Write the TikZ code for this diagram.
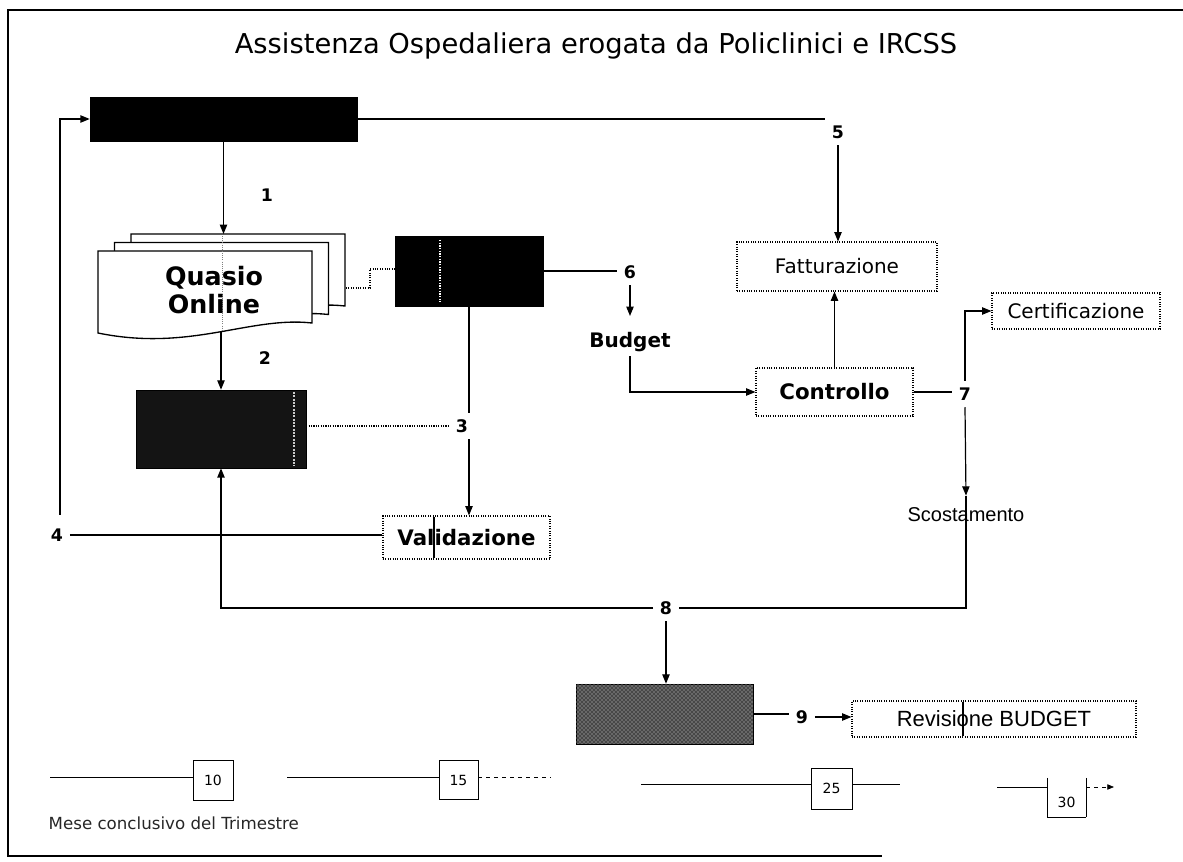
\documentclass[tikz,border=0pt]{standalone}
\usepackage{fontspec}
\setmainfont{DejaVu Sans}
\newfontfamily\arialf{Liberation Sans}
\usetikzlibrary{arrows.meta,patterns}
\begin{document}
\begin{tikzpicture}[x=0.75pt,y=-0.75pt,
  ln/.style={line width=0.9pt},
  arr/.style={ln,-{Triangle[length=7pt,width=5.5pt]}},
  blk/.style={fill=black,draw=black,inner sep=0pt},
  dbox/.style={draw,densely dotted,line width=0.8pt,inner sep=0pt},
  num/.style={font=\bfseries\fontsize{13}{13}\selectfont,inner sep=5pt},
  dline/.style={densely dotted,line width=0.8pt},
  tl/.style={line width=0.6pt},
  tbox/.style={draw,line width=0.6pt,inner sep=0pt,font=\fontsize{10.5}{10.5}\selectfont}
]
\useasboundingbox (0,0) rectangle (1183,862);
% frame
\draw[line width=1pt] (1183,10) -- (8,10) -- (8,856) -- (882,856);
% title
\node[font=\fontsize{20.5}{20.5}\selectfont] (title) at (596,46) {Assistenza Ospedaliera erogata da Policlinici e IRCSS};
% black boxes
\node[blk,minimum width=200.25pt,minimum height=33pt] (top) at (223.5,119) {};
\node[blk,minimum width=111pt,minimum height=52.5pt] (mid) at (469,271) {};
\node[blk,fill=black!92,minimum width=127.5pt,minimum height=58.5pt] (gray) at (221,429) {};
\node[blk,fill=black!72,minimum width=132.75pt,minimum height=45pt,postaction={pattern=crosshatch dots,pattern color=white!85!black}] (bot) at (664.5,714) {};
\draw[white,densely dotted,line width=1pt] (440,240) -- (440,302);
\draw[white!80!black,densely dotted,line width=1.5pt] (294,392) -- (294,466);
% Quasio Online document stack
\foreach \dx/\dy in {33/-17,16.5/-8.5,0/0}{
  \begin{scope}[shift={(\dx,\dy)}]
    \draw[fill=white,line width=1pt] (98,251) -- (312,251) -- (312,323) .. controls (250,316) and (190,352) .. (98,333) -- cycle;
  \end{scope}
}
\draw[gray,densely dotted,line width=0.6pt] (222,236) -- (222,330);
\node[font=\bfseries\fontsize{19}{21}\selectfont,align=center,inner sep=0pt] (q) at (214,290) {Quasio\\Online};
\coordinate (qtop) at (223.5,234);
\coordinate (qbot) at (221,331);
\coordinate (qr) at (346,288);
\coordinate (qk1) at (370,288);
\coordinate (qk2) at (370,269);
% dotted boxes
\node[dbox,minimum width=150pt,minimum height=36.75pt,font=\fontsize{15}{15}\selectfont] (fatt) at (837,266.5) {Fatturazione};
\node[dbox,minimum width=126pt,minimum height=27pt,font=\fontsize{15}{15}\selectfont] (cert) at (1076,311) {Certificazione};
\node[dbox,minimum width=117.75pt,minimum height=36pt,font=\bfseries\fontsize{16}{16}\selectfont] (contr) at (834.5,392) {Controllo};
\node[dbox,minimum width=125.25pt,minimum height=32.25pt,font=\bfseries\fontsize{16}{16}\selectfont] (valid) at (466.5,537.5) {Validazione};
\node[dbox,minimum width=213pt,minimum height=27pt,font=\arialf\fontsize{16.5}{16.5}\selectfont] (rev) at (994,719) {Revisione BUDGET};
\draw[ln] (434,517) -- (434,558);
\draw[ln] (963,702) -- (963,736);
% plain text nodes
\node[font=\bfseries\fontsize{15}{15}\selectfont,inner sep=3pt] (budget) at (630,342) {Budget};
\node[font=\arialf\fontsize{15}{15}\selectfont,inner sep=3pt] (scost) at (966,515) {Scostamento};
% numbers
\node[num] (n1) at (267,195) {1};
\node[num] (n2) at (265,358) {2};
\node[num] (n3) at (462,426) {3};
\node[num] (n4) at (57,535) {4};
\node[num] (n5) at (838,132) {5};
\node[num] (n6) at (630,272) {6};
\node[num] (n7) at (965,394) {7};
\node[num] (n8) at (666,608) {8};
\node[num] (n9) at (802,717) {9};
% connectors
\coordinate (l4) at (60,515);
\draw[arr] (l4) |- (top.west);
\draw[ln] (n4.east) -- (n4.east -| valid.west);
\draw[arr] (top.south) -- (qtop);
\draw[arr] (qbot) -- (gray.north);
\draw[ln] (top.east) -- (top.east -| n5.west);
\draw[arr] (n5.south) -- (n5.south |- fatt.north);
\draw[ln] (mid.east) -- (mid.east -| n6.west);
\draw[arr] (n6.south) -- ([yshift=9pt]budget.north);
\draw[arr] (budget.south) |- (contr.west);
\draw[arr] (contr.north) -- (contr.north |- fatt.south);
\draw[ln] (contr.east) -- (contr.east -| n7.west);
\draw[arr] (n7.north) |- (cert.west);
\draw[arr] (n7.south) -- ([yshift=6pt]scost.north);
\draw[ln] ([yshift=6pt]scost.north) -- (scost.south);
\draw[ln] (scost.south) |- (n8.east);
\draw[arr] (n8.west) -| (gray.south);
\draw[arr] (n8.south) -- (n8.south |- bot.north);
\draw[ln] (bot.east) -- (bot.east -| n9.west);
\draw[arr] (n9.east) -- (n9.east -| rev.west);
\draw[ln] (mid.south) -- (mid.south |- n3.north);
\draw[arr] (mid.south |- n3.south) -- (mid.south |- valid.north);
\draw[dline] (gray.east |- n3.west) -- (n3.west);
\draw[dline] (qr) -- (qk1) -- (qk2) -- (qk2 -| mid.west);
% timeline
\node[tbox,minimum size=30pt] (t10) at (213,780) {10};
\node[tbox,minimum size=29.25pt] (t15) at (458.5,780) {15};
\node[tbox,minimum size=30.75pt,text depth=-6pt] (t25) at (831.5,788.5) {25};
\coordinate (t30a) at (1047,778);
\coordinate (t30b) at (1047,817);
\coordinate (t30c) at (1086,817);
\coordinate (t30d) at (1086,778);
\draw[tl] (t30a) -- (t30b) -- (t30c);
\draw[tl] (t30d) -- (t30c);
\node[font=\fontsize{10.5}{10.5}\selectfont] (t30) at (1066.5,802) {30};
\coordinate (s1) at (50,777);
\coordinate (s2) at (287,777);
\coordinate (s3) at (551,777);
\coordinate (s4) at (641,784);
\coordinate (s5) at (900,784);
\coordinate (s6) at (997,787);
\coordinate (s7) at (1114,787);
\draw[tl] (s1) -- (s1 -| t10.west);
\draw[tl] (s2) -- (s2 -| t15.west);
\draw[tl,dashed] (s2 -| t15.east) -- (s3);
\draw[tl] (s4) -- (s4 -| t25.west);
\draw[tl] (s4 -| t25.east) -- (s5);
\draw[tl] (s6) -- (s6 -| t30a);
\draw[tl,dashed,-{Triangle[length=5pt,width=4pt]}] (t30d |- s7) -- (s7);
\node[anchor=west,font=\fontsize{12.5}{12.5}\selectfont,text=black!85] (mese) at (44,823) {Mese conclusivo del Trimestre};
\end{tikzpicture}
\end{document}
